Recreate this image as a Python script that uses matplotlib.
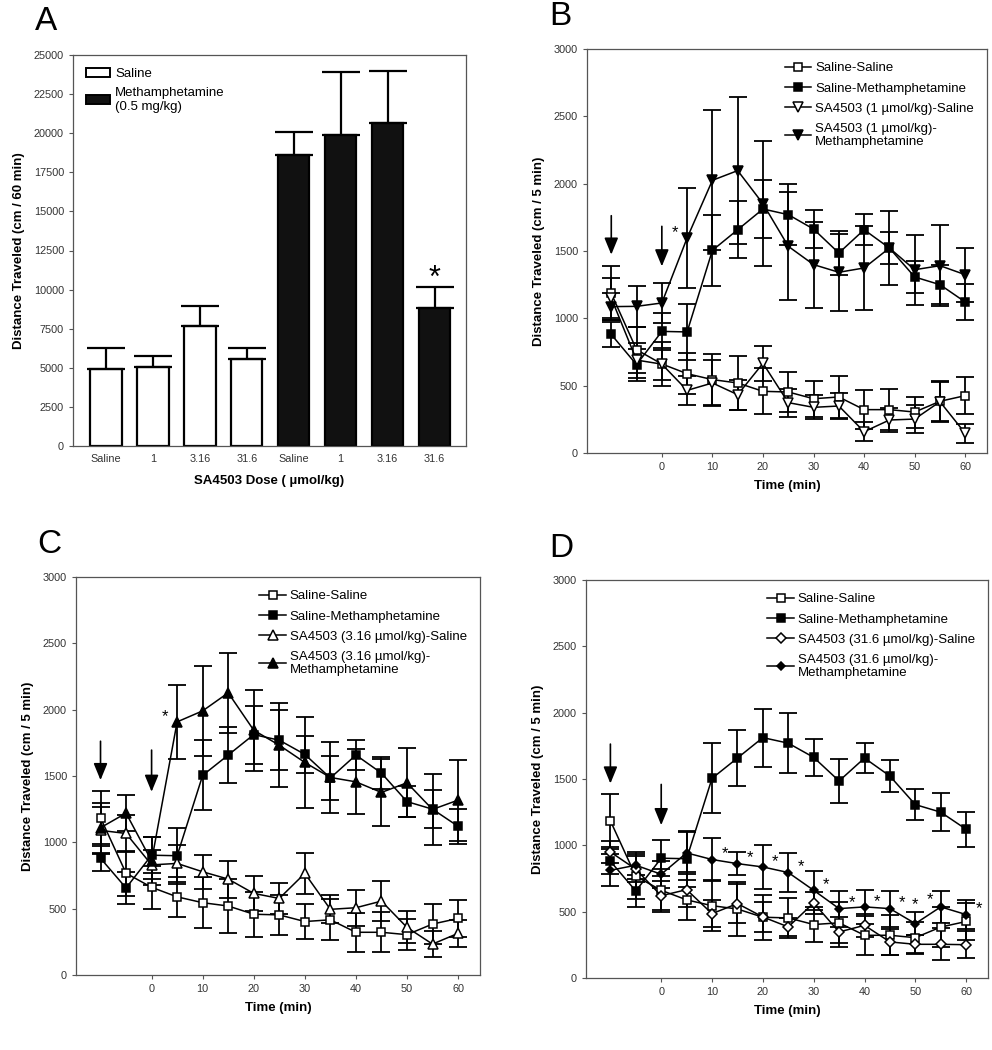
import matplotlib
matplotlib.use('Agg')
import matplotlib.pyplot as plt

plt.rcParams['font.family'] = ['Liberation Sans', 'DejaVu Sans']

# ---- Panel A data ----
doses = ['Saline', '1', '3.16', '31.6']
saline_means = [4950, 5030, 7670, 5560]
saline_err = [1320, 725, 1300, 680]
meth_means = [18600, 19900, 20630, 8800]
meth_err = [1470, 4030, 3350, 1340]

# ---- time course data (shared by B, C, D) ----
time = [-10, -5, 0, 5, 10, 15, 20, 25, 30, 35, 40, 45, 50, 55, 60]
sal_sal = [1185, 767, 661, 589, 545, 520, 458, 453, 403, 416, 322, 322, 304, 384, 426]
sal_sal_err = [200, 170, 160, 150, 190, 200, 170, 150, 135, 155, 145, 150, 115, 150, 140]
sal_meth = [880, 656, 903, 899, 1505, 1658, 1812, 1770, 1663, 1485, 1658, 1522, 1307, 1250, 1121]
sal_meth_err = [95, 118, 135, 210, 265, 210, 218, 225, 140, 165, 115, 122, 117, 145, 133]

# panel B: SA4503 1 umol/kg
sa1_sal = [1150, 690, 660, 465, 520, 433, 666, 374, 339, 349, 158, 245, 252, 381, 146]
sa1_sal_err = [150, 130, 120, 110, 170, 110, 129, 104, 89, 97, 70, 87, 101, 148, 70]
sa1_meth = [1087, 1089, 1114, 1597, 2025, 2097, 1851, 1535, 1399, 1342, 1374, 1522, 1361, 1391, 1324]
sa1_meth_err = [100, 150, 150, 370, 520, 545, 465, 400, 320, 285, 310, 273, 260, 300, 200]

# panel C: SA4503 3.16 umol/kg
sa3_sal = [1090, 1067, 830, 841, 778, 723, 615, 577, 766, 495, 507, 557, 359, 233, 314]
sa3_sal_err = [180, 140, 110, 140, 130, 140, 135, 115, 155, 105, 135, 150, 120, 100, 100]
sa3_meth = [1110, 1220, 860, 1908, 1991, 2127, 1845, 1732, 1602, 1489, 1456, 1376, 1449, 1248, 1318]
sa3_meth_err = [190, 135, 180, 280, 340, 300, 305, 318, 345, 265, 246, 250, 260, 270, 305]

# panel D: SA4503 31.6 umol/kg
sa31_sal = [950, 820, 620, 666, 485, 561, 460, 385, 566, 347, 397, 272, 254, 254, 251]
sa31_sal_err = [85, 100, 110, 130, 100, 150, 110, 70, 80, 110, 85, 100, 70, 120, 100]
sa31_meth = [812, 850, 782, 943, 893, 862, 837, 795, 661, 523, 536, 523, 410, 536, 478]
sa31_meth_err = [120, 100, 100, 160, 160, 85, 165, 145, 145, 135, 130, 135, 85, 120, 110]

# injection arrows (time, top, tip) and significance stars (time of point)
arrows_b = [(-10, 1762, 1473), (0, 1683, 1386)]
arrows_c = [(-10, 1762, 1469), (0, 1695, 1381)]
arrows_d = [(-10, 1763, 1466), (0, 1459, 1152)]
star_times_d = [10, 15, 20, 25, 30, 35, 40, 45, 50, 55, 60]

fig = plt.figure(figsize=(9.92, 10.5), dpi=100)

tick_col = '#333333'
spine_col = '#555555'


def style_axes(ax):
    for s in ax.spines.values():
        s.set_color(spine_col)
        s.set_linewidth(0.9)
    ax.tick_params(direction='out', length=3, width=0.8, color=spine_col,
                   labelsize=7.8, labelcolor=tick_col, top=False, right=False)


# ---------------- Panel A ----------------
axA = fig.add_axes([73 / 992, 1 - 446 / 1050, 393 / 992, 391 / 1050])
style_axes(axA)
xs = list(range(8))
vals = saline_means + meth_means
errs = saline_err + meth_err
cols = ['white'] * 4 + ['#111111'] * 4
axA.bar(xs, vals, width=0.67, color=cols, edgecolor='black', linewidth=1.6,
        yerr=[[0] * 8, errs],
        error_kw=dict(ecolor='black', elinewidth=1.6, capsize=14, capthick=1.6))
axA.set_xlim(-0.7, 7.67)
axA.set_ylim(0, 25000)
axA.set_yticks(range(0, 25001, 2500))
axA.set_xticks(xs)
axA.set_xticklabels(doses + doses)
axA.tick_params(axis='x', length=0, pad=6)
axA.set_xlabel('SA4503 Dose ( µmol/kg)', fontsize=9.5, fontweight='bold', labelpad=8)
axA.set_ylabel('Distance Traveled (cm / 60 min)', fontsize=9.5, fontweight='bold', labelpad=6)
axA.text(7, 10145, '*', ha='center', va='baseline', fontsize=22)
legA = [plt.Rectangle((0, 0), 1, 1, facecolor='white', edgecolor='black', lw=1.4),
        plt.Rectangle((0, 0), 1, 1, facecolor='#111111', edgecolor='black', lw=1.4)]
axA.legend(legA, ['Saline', 'Methamphetamine\n(0.5 mg/kg)'], loc='upper left',
           frameon=False, fontsize=9.5, handlelength=1.8, handleheight=0.6,
           handletextpad=0.4, labelspacing=0.5, borderaxespad=0.6)


# ---------------- time course panels ----------------
def draw_series(ax, y, e, marker, filled, ms, label):
    ax.errorbar(time, y, yerr=e, fmt='none', ecolor='black', elinewidth=1.3,
                capsize=6.5, capthick=1.3, zorder=2)
    ax.plot(time, y, '-', color='black', lw=1.1, marker=marker, ms=ms,
            mfc='black' if filled else 'white', mec='black', mew=1.1,
            label=label, zorder=3)


def time_panel(rect, drug_sal, drug_sal_err, drug_meth, drug_meth_err,
               marker_o, marker_f, ms_o, ms_f, dose, arrows):
    ax = fig.add_axes(rect)
    style_axes(ax)
    draw_series(ax, sal_sal, sal_sal_err, 's', False, 6, 'Saline-Saline')
    draw_series(ax, sal_meth, sal_meth_err, 's', True, 6, 'Saline-Methamphetamine')
    draw_series(ax, drug_sal, drug_sal_err, marker_o, False, ms_o,
                'SA4503 (%s µmol/kg)-Saline' % dose)
    draw_series(ax, drug_meth, drug_meth_err, marker_f, True, ms_f,
                'SA4503 (%s µmol/kg)-\nMethamphetamine' % dose)
    for t, top, tip in arrows:
        ax.annotate('', xy=(t, tip), xytext=(t, top),
                    arrowprops=dict(arrowstyle='-|>,head_length=0.85,head_width=0.35',
                                    color='black', lw=1.2, shrinkA=0, shrinkB=0,
                                    mutation_scale=12))
    ax.set_xlim(-14.8, 64.3)
    ax.set_ylim(0, 3000)
    ax.set_xticks(range(0, 61, 10))
    ax.set_yticks(range(0, 3001, 500))
    ax.set_xlabel('Time (min)', fontsize=9.5, fontweight='bold', labelpad=6)
    ax.set_ylabel('Distance Traveled (cm / 5 min)', fontsize=9.5, fontweight='bold', labelpad=6)
    ax.legend(loc='upper right', frameon=False, fontsize=9.5, numpoints=1,
              handlelength=2.0, handletextpad=0.3, labelspacing=0.6,
              borderaxespad=0.6)
    return ax


axB = time_panel([587 / 992, 1 - 453 / 1050, 400 / 992, 404 / 1050],
                 sa1_sal, sa1_sal_err, sa1_meth, sa1_meth_err,
                 'v', 'v', 6.5, 6.5, '1', arrows_b)
axB.annotate('*', xy=(5, sa1_meth[3]), xytext=(-9, 4), textcoords='offset points',
             ha='center', va='center', fontsize=12)

axC = time_panel([76 / 992, 1 - 975 / 1050, 404 / 992, 398 / 1050],
                 sa3_sal, sa3_sal_err, sa3_meth, sa3_meth_err,
                 '^', '^', 6.5, 6.5, '3.16', arrows_c)
axC.annotate('*', xy=(5, sa3_meth[3]), xytext=(-9, 4), textcoords='offset points',
             ha='center', va='center', fontsize=12)

axD = time_panel([586 / 992, 1 - 978 / 1050, 402 / 992, 398 / 1050],
                 sa31_sal, sa31_sal_err, sa31_meth, sa31_meth_err,
                 'D', 'D', 5, 4.5, '31.6', arrows_d)
for t in star_times_d:
    y = sa31_meth[time.index(t)]
    if t == 50:
        off = (0, 14)
    elif t == 55:
        off = (-8, 5)
    else:
        off = (9, 4)
    axD.annotate('*', xy=(t, y), xytext=off, textcoords='offset points',
                 ha='center', va='center', fontsize=12)

# panel letters
fig.text(35 / 992, 1 - 30 / 1050, 'A', fontsize=24, va='baseline')
fig.text(549 / 992, 1 - 25 / 1050, 'B', fontsize=24, va='baseline')
fig.text(37 / 992, 1 - 553 / 1050, 'C', fontsize=24, va='baseline')
fig.text(549 / 992, 1 - 557 / 1050, 'D', fontsize=24, va='baseline')

fig.savefig('out.png', dpi=100, facecolor='white')
